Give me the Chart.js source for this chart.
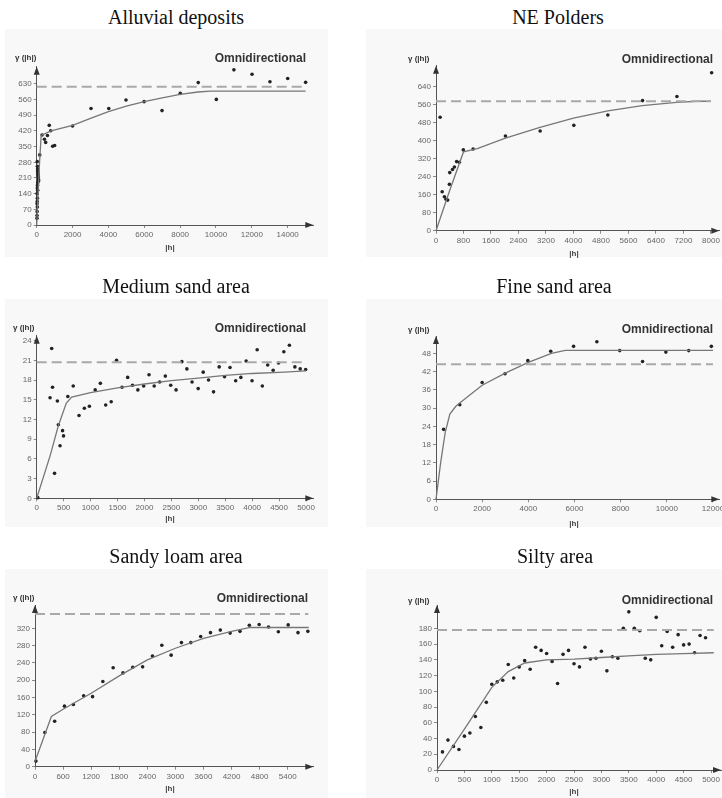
<!DOCTYPE html>
<html>
<head>
<meta charset="utf-8">
<script src="https://cdn.jsdelivr.net/npm/chart.js@4"></script>
<style>
html, body { margin: 0; padding: 0; background: #fff; width: 722px; height: 798px; overflow: hidden; position: relative; }
.title { position: absolute; font-family: "Liberation Serif", "Times New Roman", serif; font-size: 20px; color: #111; transform: translate(-50%, -50%); white-space: nowrap; }
.bg { position: absolute; background: #f8f8f8; }
canvas.c { position: absolute; }
.omni { position: absolute; font: bold 12px "Liberation Sans", Arial, sans-serif; color: #333; transform: translate(-100%, -50%); white-space: nowrap; }
.ylab { position: absolute; font: bold 8px "Liberation Sans", Arial, sans-serif; color: #333; transform: translate(0, -50%); white-space: nowrap; }
.xlab { position: absolute; font: bold 8px "Liberation Sans", Arial, sans-serif; color: #444; transform: translate(-50%, -50%); white-space: nowrap; }
</style>
</head>
<body>
<script>
// Alluvial deposits
const alluvialLag = [15, 20, 25, 35, 20, 30, 40, 25, 55, 35, 45, 60, 110, 100, 90, 80, 70, 60, 50, 40, 30, 170,
  300, 430, 500, 600, 700, 780, 890, 1000, 2000, 3030, 4020, 4980, 5990, 6990, 8010, 9010, 10020, 11000, 12010, 13010, 14000, 15000];
const alluvialGamma = [30, 42, 60, 80, 95, 105, 120, 140, 155, 165, 178, 190, 198, 205, 215, 224, 230, 240, 250, 262, 283, 313,
  402, 383, 369, 400, 445, 421, 352, 355, 442, 520, 520, 558, 551, 511, 588, 636, 561, 693, 673, 640, 654, 637];
const alluvialModelH = [0, 80, 160, 250, 800, 2000, 3000, 4000, 5000, 6000, 7000, 8000, 9000, 9700, 15000];
const alluvialModelG = [0, 150, 280, 400, 420, 445, 476, 506, 531, 551, 568, 583, 594, 598, 598];
const alluvialSill = 618;
const alluvialXTicks = [0, 2000, 4000, 6000, 8000, 10000, 12000, 14000];
const alluvialYTicks = [0, 70, 140, 210, 280, 350, 420, 490, 560, 630];

// NE Polders
const neLag = [120, 180, 245, 290, 340, 390, 400, 480, 535, 600, 680, 795, 1080, 2020, 3030, 4010, 5000, 6010, 7010, 8020];
const neGamma = [504, 173, 151, 140, 136, 206, 258, 272, 283, 307, 304, 359, 363, 421, 443, 468, 514, 578, 596, 702];
const neModelH = [0, 400, 800, 1200, 2000, 3000, 4000, 5000, 6000, 7000, 7600, 8000];
const neModelG = [0, 180, 350, 365, 410, 458, 500, 532, 556, 570, 575, 575];
const neSill = 575;
const neXTicks = [0, 800, 1600, 2400, 3200, 4000, 4800, 5600, 6400, 7200, 8000];
const neYTicks = [0, 80, 160, 240, 320, 400, 480, 560, 640];

// Medium sand area
const msLag = [20, 248, 278, 294, 331, 384, 402, 433, 480, 498, 578, 678, 786, 885, 978, 1086, 1182, 1281, 1383, 1482,
  1584, 1689, 1779, 1878, 1986, 2085, 2181, 2283, 2388, 2488, 2587, 2695, 2788, 2884, 2998, 3091, 3190, 3283, 3388, 3487,
  3589, 3694, 3790, 3889, 3998, 4093, 4189, 4288, 4390, 4489, 4588, 4691, 4793, 4892, 4993];
const msGamma = [0.1, 15.3, 22.8, 16.9, 3.8, 14.8, 11.2, 8.0, 10.3, 9.5, 15.5, 17.1, 12.6, 13.7, 14.0, 16.5, 17.5, 14.2, 14.7, 21.0,
  16.9, 18.4, 17.2, 16.5, 17.1, 18.8, 17.1, 17.7, 18.6, 17.2, 16.5, 20.8, 19.7, 17.7, 16.7, 19.2, 18.0, 16.2, 20.0, 18.5,
  19.9, 17.9, 18.4, 20.9, 17.9, 22.6, 17.1, 20.3, 19.5, 20.6, 22.3, 23.3, 20.0, 19.7, 19.6];
const msModelH = [0, 250, 400, 550, 650, 1000, 1500, 2000, 2500, 3000, 3500, 4000, 4600, 5000];
const msModelG = [0, 6.5, 11, 14.5, 15.4, 16.1, 16.8, 17.4, 17.9, 18.3, 18.7, 19.0, 19.2, 19.4];
const msSill = 20.7;
const msXTicks = [0, 500, 1000, 1500, 2000, 2500, 3000, 3500, 4000, 4500, 5000];
const msYTicks = [0, 3, 6, 9, 12, 15, 18, 21, 24];

// Fine sand area
const fsLag = [330, 1030, 2000, 2990, 3980, 4970, 5960, 6970, 7960, 8950, 9960, 10950, 11930];
const fsGamma = [23.0, 31.1, 38.4, 41.3, 45.6, 48.7, 50.3, 51.8, 48.9, 45.3, 48.4, 48.9, 50.3];
const fsModelH = [0, 200, 400, 600, 850, 1000, 2000, 3000, 4000, 5000, 5600, 6000, 12000];
const fsModelG = [0, 12, 22, 28, 30.5, 31.5, 37.5, 41.5, 45, 48, 49, 49, 49];
const fsSill = 44.4;
const fsXTicks = [0, 2000, 4000, 6000, 8000, 10000, 12000];
const fsYTicks = [0, 6, 12, 18, 24, 30, 36, 42, 48];

// Sandy loam area
const slLag = [20, 210, 420, 630, 820, 1040, 1230, 1450, 1670, 1880, 2090, 2300, 2510, 2710, 2910, 3130, 3330, 3540, 3750, 3960,
  4170, 4380, 4580, 4790, 4990, 5200, 5410, 5620, 5830];
const slGamma = [13, 79, 105, 140, 144, 164, 162, 197, 229, 217, 230, 231, 256, 281, 258, 287, 287, 301, 310, 316,
  309, 313, 327, 329, 323, 312, 328, 310, 313];
const slModelH = [0, 350, 600, 1200, 1800, 2400, 3000, 3600, 4200, 4600, 5850];
const slModelG = [12, 116, 133, 170, 210, 247, 274, 297, 313, 322, 322];
const slSill = 353;
const slXTicks = [0, 600, 1200, 1800, 2400, 3000, 3600, 4200, 4800, 5400];
const slYTicks = [0, 40, 80, 120, 160, 200, 240, 280, 320];

// Silty area
const siLag = [100, 200, 300, 400, 500, 600, 700, 800, 900, 1000, 1100, 1200, 1300, 1400, 1500, 1600, 1700, 1800, 1900, 2000,
  2100, 2200, 2300, 2400, 2500, 2600, 2700, 2800, 2900, 3000, 3100, 3200, 3300, 3400, 3500, 3600, 3700, 3800, 3900, 4000,
  4100, 4200, 4300, 4400, 4500, 4600, 4700, 4800, 4900];
const siGamma = [23, 38, 30, 26, 43, 47, 68, 54, 86, 109, 112, 114, 134, 117, 131, 139, 128, 156, 152, 148,
  138, 110, 147, 152, 135, 131, 156, 141, 142, 151, 126, 144, 142, 180, 201, 180, 177, 142, 140, 194,
  158, 176, 156, 172, 159, 160, 149, 171, 168];
const siModelH = [0, 500, 1000, 1300, 1600, 2000, 2500, 3000, 3500, 4000, 4500, 5050];
const siModelG = [0, 52, 105, 125, 136, 140, 141, 143, 145, 147, 148, 149];
const siSill = 178;
const siXTicks = [0, 500, 1000, 1500, 2000, 2500, 3000, 3500, 4000, 4500, 5000];
const siYTicks = [0, 20, 40, 60, 80, 100, 120, 140, 160, 180];

// layout of each panel (page pixels)
const panels = [
  { title: 'Alluvial deposits', tx: 176, ty: 17, bg: [5, 29, 323, 228], cv: [5, 29, 325, 228], area: [36.7, 313.3, 225, 66.7],
    xMax: 15428, yMax: 707, lag: alluvialLag, gamma: alluvialGamma, mh: alluvialModelH, mg: alluvialModelG,
    sill: alluvialSill, sillEnd: 15000, xt: alluvialXTicks, yt: alluvialYTicks, omni: [306, 58], yl: [15, 57], xl: [170, 247] },
  { title: 'NE Polders', tx: 558, ty: 17, bg: [366, 29, 356, 228], cv: [366, 29, 370, 228], area: [436, 719.3, 230.7, 65.7],
    xMax: 8243, yMax: 733, lag: neLag, gamma: neGamma, mh: neModelH, mg: neModelG,
    sill: neSill, sillEnd: 8000, xt: neXTicks, yt: neYTicks, omni: [713, 59], yl: [408, 58], xl: [574, 253] },
  { title: 'Medium sand area', tx: 176, ty: 286, bg: [5, 299, 323, 228], cv: [5, 299, 325, 228], area: [36.7, 313.3, 498.3, 335.7],
    xMax: 5135, yMax: 24.75, lag: msLag, gamma: msGamma, mh: msModelH, mg: msModelG,
    sill: msSill, sillEnd: 5000, xt: msXTicks, yt: msYTicks, omni: [306, 328], yl: [13, 327], xl: [170, 518] },
  { title: 'Fine sand area', tx: 554, ty: 286, bg: [366, 299, 356, 228], cv: [366, 299, 370, 228], area: [436, 719.3, 499.3, 336],
    xMax: 12274, yMax: 53.7, lag: fsLag, gamma: fsGamma, mh: fsModelH, mg: fsModelG,
    sill: fsSill, sillEnd: 12000, xt: fsXTicks, yt: fsYTicks, omni: [713, 329], yl: [408, 329], xl: [574, 523] },
  { title: 'Sandy loam area', tx: 176, ty: 556, bg: [5, 569, 323, 229], cv: [5, 569, 325, 229], area: [35, 313.3, 766.7, 605],
    xMax: 5947, yMax: 374, lag: slLag, gamma: slGamma, mh: slModelH, mg: slModelG,
    sill: slSill, sillEnd: 5840, xt: slXTicks, yt: slYTicks, omni: [308, 598], yl: [13, 597], xl: [170, 788] },
  { title: 'Silty area', tx: 555, ty: 556, bg: [366, 569, 356, 229], cv: [366, 569, 370, 229], area: [437, 721, 770, 605],
    xMax: 5182, yMax: 209.7, lag: siLag, gamma: siGamma, mh: siModelH, mg: siModelG,
    sill: siSill, sillEnd: 5050, xt: siXTicks, yt: siYTicks, omni: [713, 600], yl: [408, 600], xl: [574, 791] }
];

// arrow heads at the ends of both axes
const arrows = {
  id: 'arrows',
  afterDraw(chart) {
    const { ctx, chartArea: a } = chart;
    ctx.save();
    ctx.fillStyle = '#333';
    ctx.beginPath();
    ctx.moveTo(a.right, a.bottom);
    ctx.lineTo(a.right - 8, a.bottom - 3);
    ctx.lineTo(a.right - 8, a.bottom + 3);
    ctx.closePath();
    ctx.fill();
    ctx.beginPath();
    ctx.moveTo(a.left, a.top);
    ctx.lineTo(a.left - 3, a.top + 8);
    ctx.lineTo(a.left + 3, a.top + 8);
    ctx.closePath();
    ctx.fill();
    ctx.restore();
  }
};

function addDiv(cls, text, x, y) {
  const d = document.createElement('div');
  d.className = cls;
  d.textContent = text;
  d.style.left = x + 'px';
  d.style.top = y + 'px';
  document.body.appendChild(d);
  return d;
}

const tickFont = { family: '"Liberation Sans", Arial, sans-serif', size: 8 };

function build(p) {
  const bg = document.createElement('div');
  bg.className = 'bg';
  Object.assign(bg.style, { left: p.bg[0] + 'px', top: p.bg[1] + 'px', width: p.bg[2] + 'px', height: p.bg[3] + 'px' });
  document.body.appendChild(bg);
  addDiv('title', p.title, p.tx, p.ty);

  const [cl, ct, cw, ch] = p.cv;
  const [x0, x1, y0, y1] = p.area;
  const cv = document.createElement('canvas');
  cv.className = 'c';
  cv.width = cw;
  cv.height = ch;
  cv.style.left = cl + 'px';
  cv.style.top = ct + 'px';
  document.body.appendChild(cv);

  addDiv('omni', 'Omnidirectional', p.omni[0], p.omni[1]);
  addDiv('ylab', 'γ (|h|)', p.yl[0], p.yl[1]);
  addDiv('xlab', '|h|', p.xl[0], p.xl[1]);

  const axisCommon = {
    type: 'linear',
    min: 0,
    grid: { display: true, drawOnChartArea: false, drawTicks: true, tickLength: 3, color: '#888' },
    border: { display: true, color: '#555', width: 1 },
    ticks: { font: tickFont, color: '#666', padding: 2, maxRotation: 0, autoSkip: false, callback: v => String(v) }
  };

  new Chart(cv, {
    type: 'scatter',
    data: {
      datasets: [
        { data: [{ x: 0, y: p.sill }, { x: p.sillEnd, y: p.sill }], showLine: true, borderColor: '#a9a9a9',
          borderWidth: 2, borderDash: [10, 5], pointRadius: 0 },
        { data: p.mh.map((h, i) => ({ x: h, y: p.mg[i] })), showLine: true, borderColor: '#777',
          borderWidth: 1.3, pointRadius: 0 },
        { data: p.lag.map((h, i) => ({ x: h, y: p.gamma[i] })), pointRadius: 1.8,
          pointBackgroundColor: '#222', pointBorderWidth: 0 }
      ]
    },
    options: {
      responsive: false,
      animation: false,
      events: [],
      clip: false,
      layout: { padding: { left: 0, top: y1 - ct, right: cl + cw - x1, bottom: 0 } },
      plugins: { legend: { display: false }, tooltip: { enabled: false } },
      scales: {
        x: Object.assign({}, axisCommon, {
          max: p.xMax,
          afterBuildTicks: s => { s.ticks = p.xt.map(v => ({ value: v })); },
          afterFit: s => { s.height = ct + ch - y0; }
        }),
        y: Object.assign({}, axisCommon, {
          max: p.yMax,
          afterBuildTicks: s => { s.ticks = p.yt.map(v => ({ value: v })); },
          afterFit: s => { s.width = x0 - cl; }
        })
      }
    },
    plugins: [arrows]
  });
}

panels.forEach(build);
</script>
</body>
</html>
